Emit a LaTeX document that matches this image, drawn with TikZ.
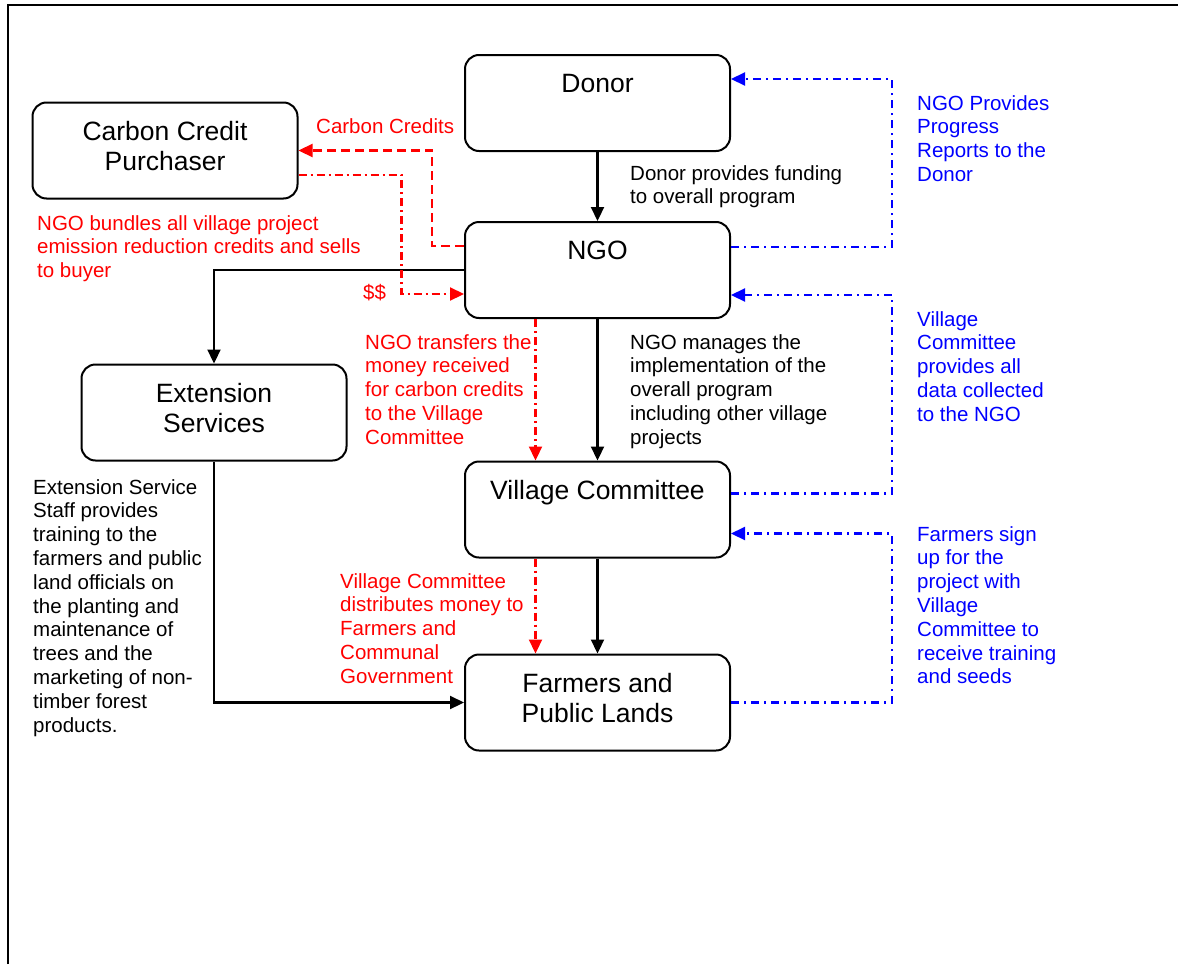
\documentclass[tikz,border=0pt]{standalone}
\usepackage{fontspec}
\setmainfont{Liberation Sans}
\usetikzlibrary{arrows.meta, positioning, calc}

\begin{document}
\begin{tikzpicture}[x=1pt, y=-1pt, >={Triangle[length=14pt, width=13pt]},
  unit/.style={draw, line width=2pt, rounded corners=14pt,
               minimum width=265pt, minimum height=96pt, inner sep=0pt},
  unittext/.style={anchor=north, inner sep=0pt, align=center,
                   font=\fontsize{26.5}{30}\selectfont},
  note/.style={anchor=north west, inner sep=0pt, align=left,
               font=\fontsize{20.5}{23.8}\selectfont},
  flow/.style={->, line width=2.2pt},
  money/.style={->, red, line width=2.2pt, dash pattern=on 8pt off 4pt on 2pt off 4pt},
  credit/.style={->, red, line width=2.2pt, dash pattern=on 9pt off 5pt},
  report/.style={->, blue, line width=2.2pt, dash pattern=on 8pt off 5pt on 2pt off 5pt}]
  \useasboundingbox (0,0) rectangle (1178,964);

  % Frame
  \draw[line width=2.4pt] (8,964) -- (8,5) -- (1178,5);

  % Boxes
  \foreach \n/\x/\y/\t in {donor/597.5/103/Donor, ngo/597.5/270/NGO,
      vc/597.5/509.5/Village Committee, farm/597.5/702.5/{Farmers and\\Public Lands},
      ccp/165/150.5/{Carbon Credit\\Purchaser}, ext/214/412.5/{Extension\\Services}} {
    \node[unit] (\n) at (\x,\y) {};
    \node[unittext] (\n-t) at ([yshift=-20pt]\n.north) {\t};
  }

  % Funding and management
  \draw[flow] (donor) -- (ngo);
  \draw[flow] (ngo) -- (vc);
  \draw[flow] (vc) -- (farm);
  \draw[flow] (ngo.west) -| (ext.north);
  \draw[flow] (ext.south) |- (farm.west);

  % Money and credits
  \draw[credit] ([yshift=24pt]ngo.west) -- ++(-32,0) |- (ccp.east);
  \draw[money] ([yshift=-24.5pt]ccp.east) -- ++(103,0) |- ([yshift=-24pt]ngo.west);
  \draw[money] ([xshift=-62pt]ngo.south) -- ([xshift=-62pt]vc.north);
  \draw[money] ([xshift=-62pt]vc.south) -- ([xshift=-62pt]farm.north);

  % Reports back up
  \draw[report] ([yshift=23pt]ngo.east) -- ++(161,0) |- ([yshift=24pt]donor.east);
  \draw[report] ([yshift=16pt]vc.east) -- ++(161,0) |- ([yshift=-25pt]ngo.east);
  \draw[report] (farm.east) -- ++(161,0) |- ([yshift=-24pt]vc.east);

  % Labels
  \node[note] (l-fund) at (630,165) {Donor provides funding\\to overall program};
  \node[note] (l-manage) at (630,334) {NGO manages the\\implementation of the\\overall program\\including other village\\projects};
  \node[note] (l-ext) at (33,479) {Extension Service\\Staff provides\\training to the\\farmers and public\\land officials on\\the planting and\\maintenance of\\trees and the\\marketing of non-\\timber forest\\products.};
  \node[note, red] (l-credits) at (316,118) {Carbon Credits};
  \node[note, red] (l-bundle) at (37,215) {NGO bundles all village project\\emission reduction credits and sells\\to buyer};
  \node[note, red] (l-cash) at (363,284) {\$\$};
  \node[note, red] (l-transfer) at (365,334) {NGO transfers the\\money received\\for carbon credits\\to the Village\\Committee};
  \node[note, red] (l-distrib) at (340,573) {Village Committee\\distributes money to\\Farmers and\\Communal\\Government};
  \node[note, blue] (l-progress) at (917,95) {NGO Provides\\Progress\\Reports to the\\Donor};
  \node[note, blue] (l-data) at (917,311) {Village\\Committee\\provides all\\data collected\\to the NGO};
  \node[note, blue] (l-signup) at (917,526) {Farmers sign\\up for the\\project with\\Village\\Committee to\\receive training\\and seeds};
\end{tikzpicture}
\end{document}
